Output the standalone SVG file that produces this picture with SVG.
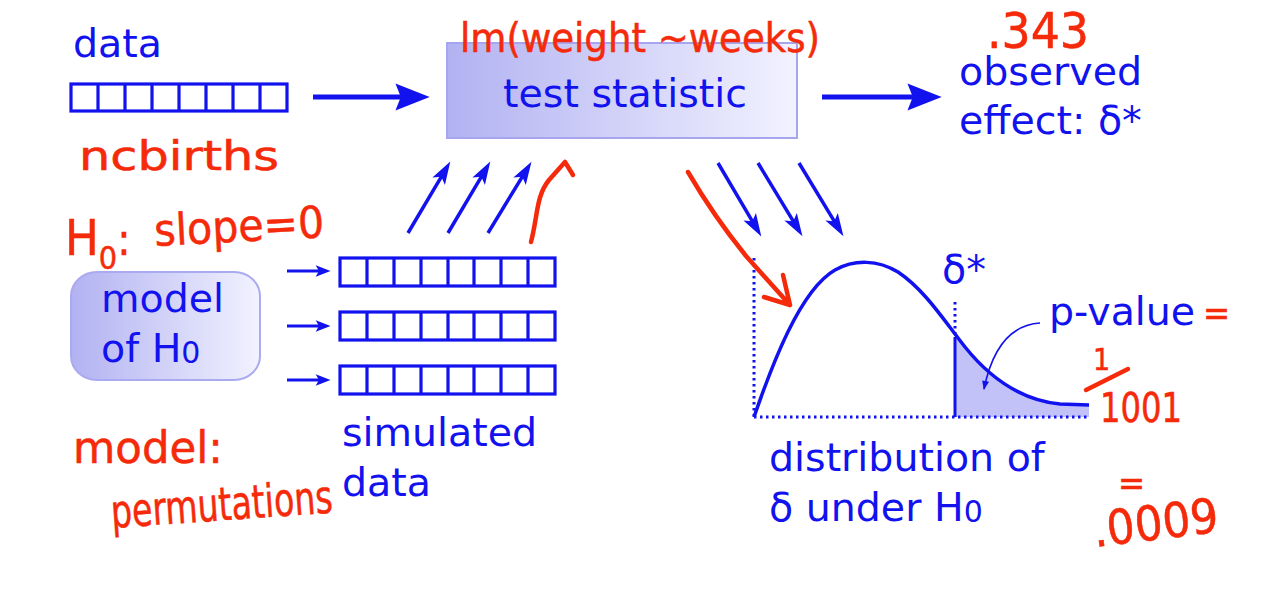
<svg xmlns="http://www.w3.org/2000/svg" width="1268" height="589" viewBox="0 0 1268 589">
<style>
.bt{font-family:"DejaVu Sans","Liberation Sans",sans-serif;font-size:39.5px;fill:#1212ee}
.arr{fill:none;stroke:#1212ee;stroke-width:3.5}
.cells{fill:none;stroke:#1212ee;stroke-width:3.2}
.conn{fill:none;stroke:#1212ee}
.dot{fill:none;stroke:#1212ee;stroke-width:3;stroke-dasharray:2.5 3.5}
.rt{font-family:"Liberation Sans Narrow","DejaVu Sans Condensed","Liberation Sans",sans-serif;fill:#f52a0a;stroke:#f52a0a;stroke-width:0.5}
.rl{fill:none;stroke:#f52a0a;stroke-width:4.5;stroke-linecap:round;stroke-linejoin:round}
</style>
<defs>
<linearGradient id="gbox" x1="0" y1="0" x2="1" y2="0">
<stop offset="0" stop-color="#b2b2f2"/>
<stop offset="1" stop-color="#f2f2ff"/>
</linearGradient>
<marker id="hb" markerUnits="userSpaceOnUse" markerWidth="40" markerHeight="30" viewBox="-2 -14 36 28" refX="8" refY="0" orient="auto">
<path d="M0,-12.5 L32,0 L0,12.5 L5,0 Z" fill="#1212ee"/>
</marker>
<marker id="hm" markerUnits="userSpaceOnUse" markerWidth="26" markerHeight="18" viewBox="-1 -8 25 16" refX="8" refY="0" orient="auto">
<path d="M0,-7 L22,0 L0,7 L5,0 Z" fill="#1212ee"/>
</marker>
<marker id="hs" markerUnits="userSpaceOnUse" markerWidth="18" markerHeight="14" viewBox="-1 -6 17 12" refX="5" refY="0" orient="auto">
<path d="M0,-5.5 L14,0 L0,5.5 L3,0 Z" fill="#1212ee"/>
</marker>
<marker id="ht" markerUnits="userSpaceOnUse" markerWidth="12" markerHeight="10" viewBox="-1 -5 11 10" refX="8" refY="0" orient="auto">
<path d="M0,-3.5 L9,0 L0,3.5 Z" fill="#1212ee"/>
</marker>
<clipPath id="tail"><rect x="955" y="200" width="140" height="217.5"/></clipPath>
</defs>
<rect width="1268" height="589" fill="#ffffff"/>

<g id="data">
<text class="bt" x="73" y="57">data</text>
<rect class="cells" x="71" y="84" width="216" height="27"/>
<path class="cells" d="M98,84V111M125,84V111M152,84V111M179,84V111M206,84V111M233,84V111M260,84V111"/>
</g>

<g id="test-statistic">
<rect x="447" y="43" width="350" height="95" fill="url(#gbox)" stroke="#a6a6ee" stroke-width="2"/>
<text class="bt" x="625" y="107" text-anchor="middle">test statistic</text>
</g>

<g id="observed-effect">
<text class="bt" x="959" y="85">observed</text>
<text class="bt" x="959" y="134">effect: δ*</text>
</g>

<g id="model-h0">
<rect x="71" y="272" width="189" height="108" rx="26" ry="24" fill="url(#gbox)" stroke="#aaaaf0" stroke-width="2"/>
<text class="bt" x="101" y="312">model</text>
<text class="bt" x="101" y="362">of H<tspan font-size="30" dy="1">0</tspan></text>
</g>

<g id="simulated-data">
<rect class="cells" x="340" y="258" width="215" height="28"/>
<path class="cells" d="M367,258V286M394,258V286M421,258V286M448,258V286M474,258V286M501,258V286M528,258V286"/>
<rect class="cells" x="340" y="312" width="215" height="28"/>
<path class="cells" d="M367,312V340M394,312V340M421,312V340M448,312V340M474,312V340M501,312V340M528,312V340"/>
<rect class="cells" x="340" y="366" width="215" height="28"/>
<path class="cells" d="M367,366V394M394,366V394M421,366V394M448,366V394M474,366V394M501,366V394M528,366V394"/>
<text class="bt" x="342" y="446">simulated</text>
<text class="bt" x="342" y="496">data</text>
</g>

<g id="distribution">
<path d="M754,417 C772,365 800,290 835,270 C855,259 878,260 898,272 C925,290 945,322 965,347 C990,378 1020,400 1060,404 L1089,405 L1089,417 Z" fill="#c2c2f8" clip-path="url(#tail)"/>
<path class="dot" d="M754,258 V417 M754,417 H1089 M955,302 V337"/>
<path d="M955,337 V417" fill="none" stroke="#1212ee" stroke-width="3"/>
<path d="M754,417 C772,365 800,290 835,270 C855,259 878,260 898,272 C925,290 945,322 965,347 C990,378 1020,400 1060,404 L1089,405" fill="none" stroke="#1212ee" stroke-width="3.5"/>
<text class="bt" x="942" y="283">δ*</text>
<text class="bt" x="769" y="471">distribution of</text>
<text class="bt" x="769" y="521">δ under H<tspan font-size="30" dy="1">0</tspan></text>
</g>

<g id="p-value">
<text class="bt" x="1049" y="325">p-value</text>
</g>

<g id="connectors">
<path class="conn" stroke-width="5" d="M313,97 H404" marker-end="url(#hb)"/>
<path class="conn" stroke-width="5" d="M822,97 H916" marker-end="url(#hb)"/>
<path class="arr" d="M408,233 L442.9,174.1" marker-end="url(#hm)"/>
<path class="arr" d="M448,233 L482.9,174.1" marker-end="url(#hm)"/>
<path class="arr" d="M488,233 L523.9,174.1" marker-end="url(#hm)"/>
<path class="arr" d="M718,163 L753.9,223.9" marker-end="url(#hm)"/>
<path class="arr" d="M758,163 L794.9,223.9" marker-end="url(#hm)"/>
<path class="arr" d="M799,163 L835.9,223.9" marker-end="url(#hm)"/>
<path class="conn" stroke-width="2.8" d="M287,271 H321" marker-end="url(#hs)"/>
<path class="conn" stroke-width="2.8" d="M287,326 H321" marker-end="url(#hs)"/>
<path class="conn" stroke-width="2.8" d="M287,380 H321" marker-end="url(#hs)"/>
<path class="conn" stroke-width="1.6" d="M1040,323 C1010,325 992,350 984,389" marker-end="url(#ht)"/>
</g>

<g id="annotations">
<text class="rt" x="460" y="52" font-size="40" textLength="360" lengthAdjust="spacingAndGlyphs">lm(weight ~weeks)</text>
<text class="rt" x="987" y="48" font-size="50" textLength="102" lengthAdjust="spacingAndGlyphs">.343</text>
<text class="rt" x="79" y="170" font-size="40" textLength="200" lengthAdjust="spacingAndGlyphs">ncbirths</text>
<text class="rt" x="65" y="255" font-size="50">H<tspan font-size="32" dy="14">0</tspan><tspan dy="-14" font-size="44">: </tspan></text>
<text class="rt" x="155" y="246" font-size="44" textLength="170" lengthAdjust="spacingAndGlyphs" transform="rotate(-3 155 246)">slope=0</text>
<text class="rt" x="73" y="463" font-size="44" textLength="150" lengthAdjust="spacingAndGlyphs">model:</text>
<text class="rt" x="112" y="528" font-size="46" textLength="222" lengthAdjust="spacingAndGlyphs" transform="rotate(-4 112 528)">permutations</text>
<text class="rt" x="1203" y="325" font-size="36">=</text>
<text class="rt" x="1093" y="370" font-size="30">1</text>
<path class="rl" d="M1086,390 L1128,369"/>
<text class="rt" x="1100" y="422" font-size="40" textLength="82" lengthAdjust="spacingAndGlyphs">1001</text>
<text class="rt" x="1118" y="495" font-size="36">=</text>
<text class="rt" x="1095" y="547" font-size="48" textLength="126" lengthAdjust="spacingAndGlyphs" transform="rotate(-7 1095 547)">.0009</text>
<path class="rl" d="M531,242 C538,215 536,196 549,180 L565,162 L573,175"/>
<path class="rl" d="M688,172 C702,196 725,230 746,256 L790,305 M783,275 L790,305 L764,297"/>
</g>
</svg>
